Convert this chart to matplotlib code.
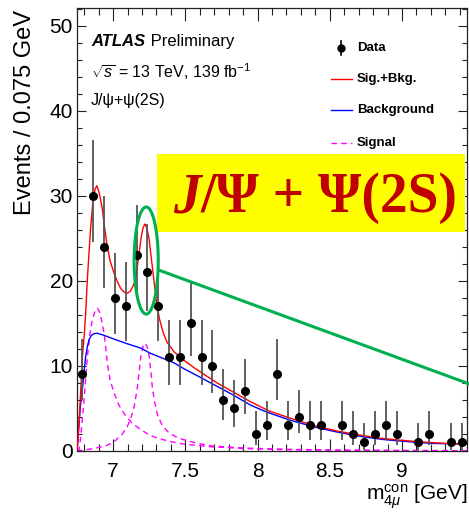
import numpy as np
import matplotlib
matplotlib.use("Agg")
import matplotlib.pyplot as plt
from matplotlib.patches import Rectangle, Ellipse
from matplotlib.ticker import MultipleLocator, FuncFormatter

plt.rcParams['font.family'] = ['Liberation Sans', 'DejaVu Sans']
plt.rcParams['mathtext.fontset'] = 'custom'
plt.rcParams['mathtext.rm'] = 'Liberation Sans'
plt.rcParams['mathtext.it'] = 'Liberation Sans:italic'
plt.rcParams['mathtext.bf'] = 'Liberation Sans:bold'

# ------------------------------------------------------------
# data: events per 0.075 GeV bin, 6.75 - 9.45 GeV
# ------------------------------------------------------------
BIN_EDGES = np.linspace(6.75, 9.45, 37)
COUNTS = [9, 30, 24, 18, 17, 23, 21, 17, 11, 11, 15, 11, 10, 6, 5, 7, 2, 3,
          9, 3, 4, 3, 3, 0, 3, 2, 1, 2, 3, 2, 0, 1, 2, 0, 1, 1]

# fit curves
RED_X = [6.750, 6.757, 6.764, 6.770, 6.776, 6.782, 6.787, 6.794, 6.800, 6.810,
         6.822, 6.835, 6.845, 6.860, 6.875, 6.887, 6.900, 6.913, 6.926, 6.940,
         6.960, 6.980, 7.007, 7.030, 7.053, 7.075, 7.099, 7.120, 7.146, 7.165,
         7.180, 7.195, 7.208, 7.220, 7.231, 7.240, 7.250, 7.265, 7.285, 7.300,
         7.320, 7.345, 7.373, 7.420, 7.488, 7.560, 7.640, 7.720, 7.830, 7.951,
         8.080, 8.229, 8.400, 8.550, 8.700, 8.850, 9.000, 9.150, 9.300, 9.450]
RED_Y = [0.0, 1.5, 3.3, 5.2, 7.2, 9.2, 11.1, 12.4, 13.6, 16.2,
         20.3, 23.8, 26.4, 29.2, 30.8, 31.2, 30.6, 29.6, 28.4, 26.4,
         24.0, 22.3, 20.9, 19.9, 19.1, 18.7, 18.55, 18.8, 19.7, 21.3,
         23.3, 25.2, 26.3, 26.7, 26.3, 25.7, 24.8, 22.6, 19.7, 17.6,
         15.6, 14.0, 12.8, 11.7, 10.7, 9.8, 8.9, 8.0, 6.95, 5.8,
         4.7, 3.85, 2.95, 2.35, 1.9, 1.5, 1.25, 1.05, 0.9, 0.85]

BKG_X = [6.750, 6.757, 6.765, 6.775, 6.787, 6.800, 6.810, 6.822, 6.833, 6.850,
         6.868, 6.890, 6.938, 7.000, 7.100, 7.192, 7.257, 7.330, 7.424, 7.488,
         7.600, 7.720, 7.830, 7.951, 8.060, 8.229, 8.400, 8.530, 8.650, 8.760,
         8.870, 8.970, 9.080, 9.200, 9.320, 9.450]
BKG_Y = [0.0, 1.5, 3.5, 5.5, 7.2, 9.5, 11.1, 12.3, 13.1, 13.6,
         13.8, 13.85, 13.6, 13.2, 12.6, 12.1, 11.5, 11.0, 10.35, 9.7,
         8.7, 7.6, 6.6, 5.4, 4.6, 3.6, 2.8, 2.3, 1.9, 1.6,
         1.35, 1.2, 1.05, 0.9, 0.85, 0.8]

SIG1_X = [6.750, 6.765, 6.776, 6.787, 6.799, 6.810, 6.822, 6.840, 6.856, 6.875,
          6.891, 6.905, 6.920, 6.938, 6.950, 6.960, 6.980, 7.007, 7.040, 7.076,
          7.130, 7.192, 7.250, 7.308, 7.400, 7.493, 7.678, 7.900, 8.200, 8.600,
          9.000, 9.450]
SIG1_Y = [0.0, 0.2, 1.7, 3.8, 6.0, 8.5, 11.1, 13.8, 15.4, 16.5,
          16.8, 16.4, 15.4, 13.8, 12.0, 10.3, 8.3, 6.8, 5.4, 4.4,
          3.3, 2.5, 1.9, 1.5, 1.1, 0.8, 0.5, 0.3, 0.15, 0.08,
          0.05, 0.03]

SIG2_X = [6.750, 6.870, 6.950, 7.007, 7.060, 7.099, 7.125, 7.146, 7.169, 7.192,
          7.207, 7.222, 7.237, 7.250, 7.262, 7.273, 7.290, 7.308, 7.340, 7.377,
          7.430, 7.493, 7.600, 7.678, 7.900, 8.200, 8.600, 9.000, 9.450]
SIG2_Y = [0.0, 0.3, 0.6, 1.1, 1.9, 2.9, 4.0, 5.2, 7.6, 11.1,
          12.3, 12.7, 12.2, 11.1, 9.2, 7.2, 5.6, 4.2, 3.0, 2.3,
          1.7, 1.3, 0.85, 0.6, 0.35, 0.2, 0.1, 0.06, 0.04]

X_TICKS = [7, 7.5, 8, 8.5, 9]

# ------------------------------------------------------------
fig = plt.figure(figsize=(4.69, 5.13), dpi=100)
ax = fig.add_axes([77 / 469, 1 - 451 / 513, 390 / 469, 443 / 513])

centers = 0.5 * (BIN_EDGES[:-1] + BIN_EDGES[1:])
n = np.array(COUNTS, dtype=float)
keep = n > 0
err_lo = np.sqrt(n[keep] - 0.25)
err_hi = np.sqrt(n[keep] + 0.75) + 1.0

ax.plot(BKG_X, BKG_Y, color='#0000FF', lw=1.0, zorder=3)
ax.plot(RED_X, RED_Y, color='#FF0000', lw=1.0, zorder=4)
ax.plot(SIG1_X, SIG1_Y, color='#FF00FF', lw=1.0, ls=(0, (4, 3)), zorder=2)
ax.plot(SIG2_X, SIG2_Y, color='#FF00FF', lw=1.0, ls=(0, (4, 3)), zorder=2)

ax.errorbar(centers[keep], n[keep], yerr=[err_lo, err_hi], fmt='o',
            color='black', ecolor='#555555', elinewidth=1.3, capsize=0,
            markersize=5.5, zorder=5)

ax.set_xlim(6.75, 9.45)
ax.set_ylim(0, 52.1)

# ATLAS-ish ticks
ax.xaxis.set_major_locator(MultipleLocator(0.5))
ax.xaxis.set_minor_locator(MultipleLocator(0.1))
ax.yaxis.set_major_locator(MultipleLocator(10))
ax.yaxis.set_minor_locator(MultipleLocator(2))
ax.set_xticks(X_TICKS)
ax.xaxis.set_major_formatter(FuncFormatter(lambda v, p: f"{v:g}"))
ax.tick_params(axis='both', which='both', direction='in', top=True, right=True,
               colors='#222222', labelcolor='black')
ax.tick_params(axis='x', which='major', length=9, width=0.8, labelsize=15, pad=8)
ax.tick_params(axis='x', which='minor', length=4.8, width=0.8)
ax.tick_params(axis='y', which='major', length=6.3, width=0.8, labelsize=15, pad=3)
ax.tick_params(axis='y', which='minor', length=3.8, width=0.8)
for s in ax.spines.values():
    s.set_linewidth(0.9)
    s.set_color('#222222')

fig.text(25 / 469, 1 - 10 / 513, "Events / 0.075 GeV", rotation=90,
         ha='center', va='top', fontsize=17)
ax.text(1.0, -0.112, r"m$_{4\mu}^{\rm con}$ [GeV]", transform=ax.transAxes,
        ha='right', va='baseline', fontsize=15)

# ATLAS labels
t = ax.text(0.038, 0.925, "ATLAS", transform=ax.transAxes, fontsize=12,
            fontweight='bold', style='italic', va='center')
ax.annotate(" Preliminary", xy=(1, 0), xycoords=t, va='bottom', fontsize=12)
ax.text(0.036, 0.856, r"$\sqrt{s}$ = 13 TeV, 139 fb$^{-1}$", transform=ax.transAxes,
        fontsize=11.5, va='center')
ax.text(0.036, 0.792, "J/ψ+ψ(2S)", transform=ax.transAxes, fontsize=11.5,
        va='center')

# legend drawn by hand
tr = ax.transAxes
ax.plot([0.677, 0.677], [0.895, 0.925], color='black', lw=1.2, transform=tr)
ax.plot([0.677], [0.910], 'o', color='black', markersize=5, transform=tr)
ax.plot([0.651, 0.705], [0.839, 0.839], color='#FF0000', lw=1.0, transform=tr)
ax.plot([0.651, 0.705], [0.770, 0.770], color='#0000FF', lw=1.0, transform=tr)
ax.plot([0.651, 0.705], [0.696, 0.696], color='#FF00FF', lw=1.0,
        ls=(0, (4, 3)), transform=tr)
for yy, lbl in [(0.910, "Data"), (0.839, "Sig.+Bkg."),
                (0.770, "Background"), (0.696, "Signal")]:
    ax.text(0.718, yy, lbl, transform=tr, fontsize=9.5, fontweight='bold',
            va='center')

# highlight: yellow box, green ellipse + line
ax.add_patch(Rectangle((0.205, 0.494), 0.790, 0.176, transform=tr,
                       facecolor='#FFFF00', edgecolor='none', zorder=6,
                       clip_on=False))
tj = ax.text(0.246, 0.571, "J", transform=tr, fontsize=40, color='#C00000',
             family=['Liberation Serif', 'DejaVu Serif'], fontweight='bold',
             style='italic', va='center', zorder=7)
ax.annotate("/Ψ + Ψ(2S)", xy=(1, 0), xycoords=tj, va='bottom', ha='left',
            fontsize=40, color='#C00000', fontweight='bold',
            family=['Liberation Serif', 'DejaVu Serif'], zorder=7)

ax.add_patch(Ellipse((7.229, 22.4), 0.167, 12.6, fill=False,
                     edgecolor='#00B050', lw=2.2, zorder=8))
ax.plot([7.3125, 9.472], [21.3, 7.85], color='#00B050', lw=2.2, zorder=8,
        clip_on=False, solid_capstyle='butt')

fig.savefig("out.png", dpi=100, facecolor='white')
